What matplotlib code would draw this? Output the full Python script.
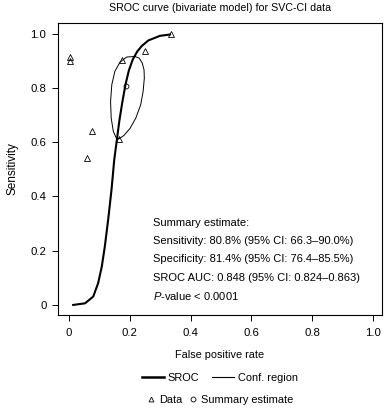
import matplotlib
matplotlib.use("Agg")
import matplotlib.pyplot as plt
from matplotlib.lines import Line2D

plt.rcParams['font.family'] = ['Liberation Sans', 'DejaVu Sans']
plt.rcParams['mathtext.fontset'] = 'custom'
plt.rcParams['mathtext.rm'] = 'Liberation Sans'
plt.rcParams['mathtext.it'] = 'Liberation Sans:italic'

# study data (false positive rate, sensitivity)
data_fpr = [0.003, 0.003, 0.076, 0.059, 0.164, 0.175, 0.250, 0.335]
data_sens = [0.915, 0.900, 0.642, 0.542, 0.612, 0.904, 0.937, 1.000]

# summary estimate
sum_fpr = [0.187]
sum_sens = [0.808]

# SROC curve
sroc_fpr = [0.014, 0.053, 0.080, 0.096, 0.108, 0.118, 0.129, 0.140, 0.149, 0.157,
            0.166, 0.176, 0.186, 0.197, 0.210, 0.225, 0.240, 0.261, 0.299, 0.332]
sroc_sens = [0.000, 0.006, 0.031, 0.080, 0.141, 0.215, 0.314, 0.424, 0.535, 0.603,
             0.680, 0.750, 0.812, 0.864, 0.905, 0.935, 0.955, 0.975, 0.992, 0.997]

# confidence region outline
conf_fpr = [0.217, 0.231, 0.241, 0.247, 0.248, 0.244, 0.236, 0.220, 0.201, 0.181,
            0.164, 0.155, 0.146, 0.139, 0.137, 0.141, 0.151, 0.168, 0.190, 0.217]
conf_sens = [0.916, 0.910, 0.892, 0.867, 0.836, 0.787, 0.738, 0.689, 0.651, 0.625,
             0.612, 0.617, 0.640, 0.689, 0.750, 0.812, 0.861, 0.895, 0.914, 0.916]

ticks = [0, 0.2, 0.4, 0.6, 0.8, 1.0]
tick_labels = ["0", "0.2", "0.4", "0.6", "0.8", "1.0"]

summary_lines = [
    "Summary estimate:",
    "Sensitivity: 80.8% (95% CI: 66.3\u201390.0%)",
    "Specificity: 81.4% (95% CI: 76.4\u201385.5%)",
    "SROC AUC: 0.848 (95% CI: 0.824\u20130.863)",
    "$\\it{P}$-value < 0.0001",
]

fig = plt.figure(figsize=(3.84, 4.08), dpi=100)
ax = fig.add_axes([0.151, 0.228, 0.844, 0.716])

ax.plot(sroc_fpr, sroc_sens, color="black", lw=1.5)
ax.plot(conf_fpr, conf_sens, color="black", lw=0.7)
ax.plot(data_fpr, data_sens, linestyle="none", marker="^", markersize=4,
        markerfacecolor="none", markeredgecolor="black", markeredgewidth=0.6)
ax.plot(sum_fpr, sum_sens, linestyle="none", marker="o", markersize=3.5,
        markerfacecolor="none", markeredgecolor="black", markeredgewidth=0.6)

ax.set_xlim(-0.036, 1.03)
ax.set_ylim(-0.037, 1.04)
ax.set_xticks(ticks)
ax.set_xticklabels(tick_labels)
ax.set_yticks(ticks)
ax.set_yticklabels(tick_labels)
ax.tick_params(direction="out", length=4.3, width=0.7, labelsize=8.2)
ax.tick_params(axis="x", pad=5)
ax.tick_params(axis="y", pad=4)
for s in ax.spines.values():
    s.set_linewidth(0.8)

ax.set_title("SROC curve (bivariate model) for SVC-CI data", fontsize=7.7, pad=8.5)
ax.set_xlabel("False positive rate", fontsize=7.8, labelpad=9)
ax.set_ylabel("Sensitivity", fontsize=8.5, labelpad=9)

for i, line in enumerate(summary_lines):
    ax.text(0.276, 0.303 - i * 0.0675, line, fontsize=8, va="center", ha="left")

row1 = [Line2D([], [], color="black", lw=1.8),
        Line2D([], [], color="black", lw=0.8)]
row2 = [Line2D([], [], linestyle="none", marker="^", markersize=3.5,
               markerfacecolor="none", markeredgecolor="black", markeredgewidth=0.6),
        Line2D([], [], linestyle="none", marker="o", markersize=3.5,
               markerfacecolor="none", markeredgecolor="black", markeredgewidth=0.6)]
fig.legend(row1, ["SROC", "Conf. region"], ncol=2, loc="center",
           bbox_to_anchor=(0.573, 0.0735), frameon=False, fontsize=7.9,
           handlelength=2.0, handletextpad=0.3, columnspacing=1.2,
           borderpad=0, borderaxespad=0)
fig.legend(row2, ["Data", "Summary estimate"], ncol=2, loc="center",
           bbox_to_anchor=(0.573, 0.0196), frameon=False, fontsize=7.9,
           handlelength=0.8, handletextpad=0.3, columnspacing=0.6,
           borderpad=0, borderaxespad=0)

fig.savefig("out.png", dpi=100)
